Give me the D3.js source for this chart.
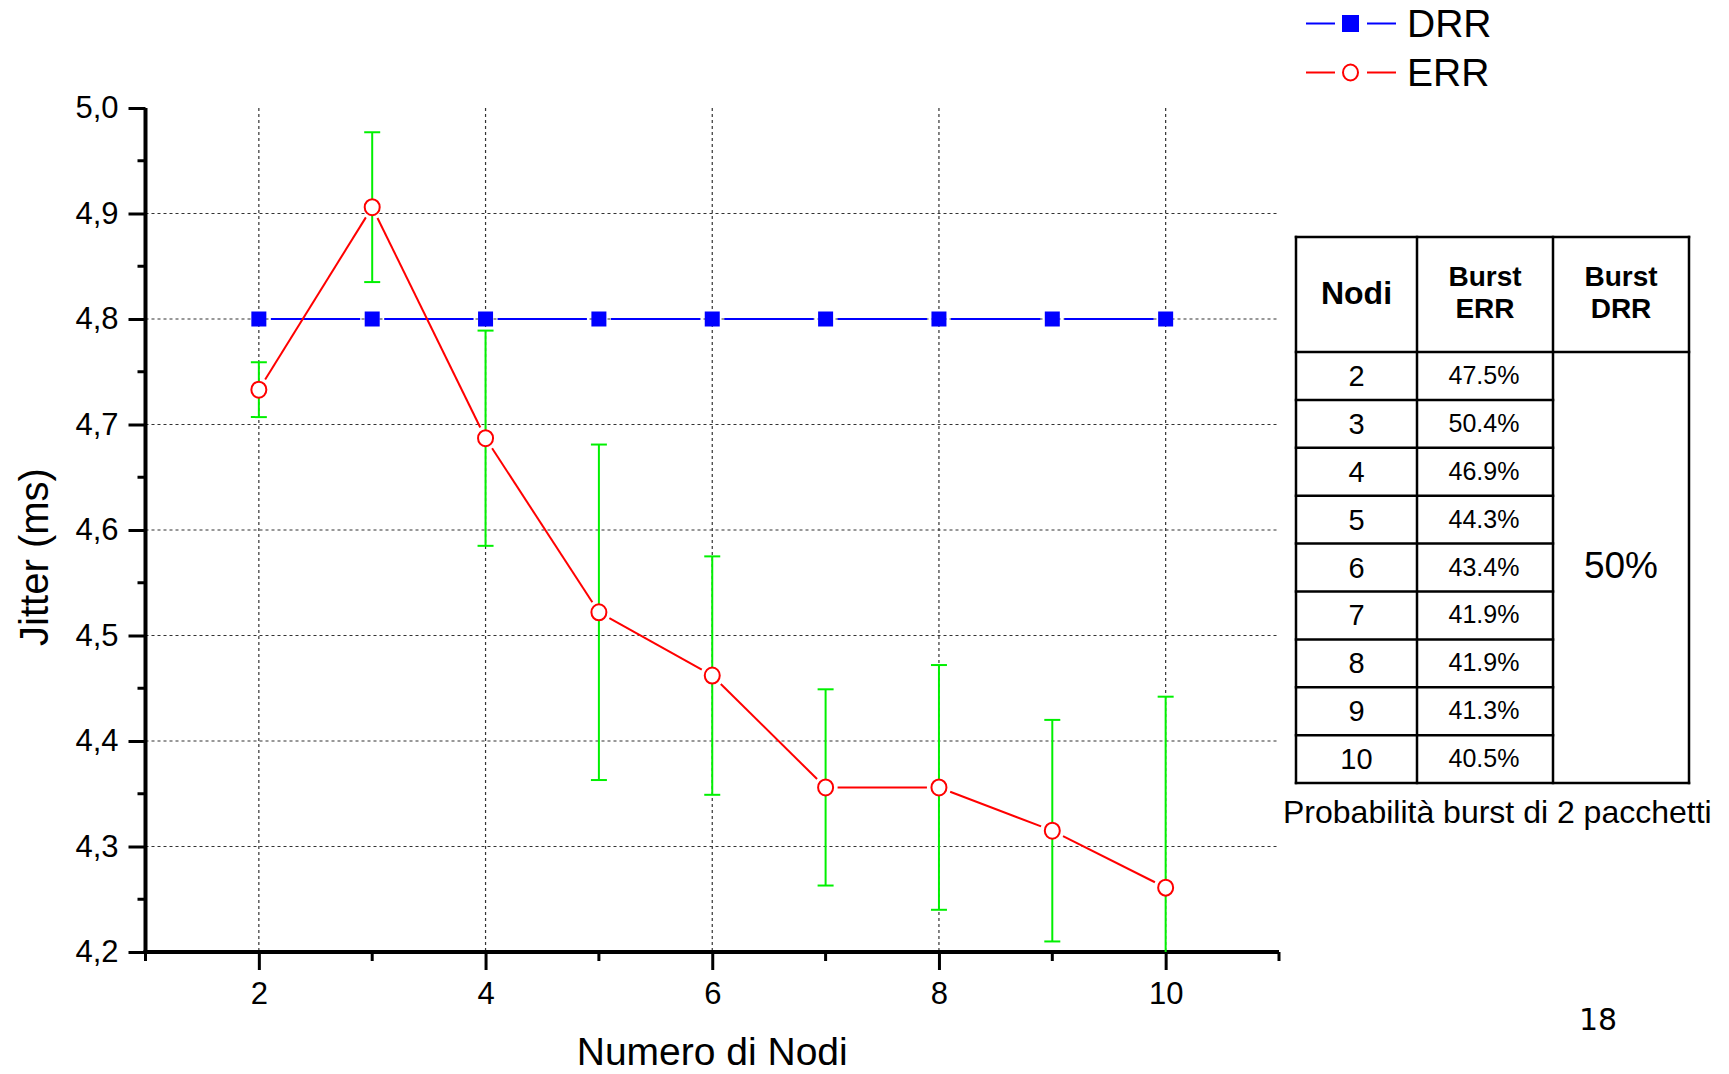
<!DOCTYPE html>
<html>
<head>
<meta charset="utf-8">
<script src="https://cdn.jsdelivr.net/npm/d3@7"></script>
<style>
  html, body { margin: 0; padding: 0; background: #ffffff; }
  svg { display: block; }
  text { font-family: "Liberation Sans", Arial, sans-serif; fill: #000; }
</style>
</head>
<body>
<svg id="chart" width="1729" height="1074"></svg>
<script>
// ---------------- data ----------------
const nodes = [2, 3, 4, 5, 6, 7, 8, 9, 10];
const drrJitter = [4.8, 4.8, 4.8, 4.8, 4.8, 4.8, 4.8, 4.8, 4.8];
const errJitter = [4.733, 4.906, 4.687, 4.522, 4.462, 4.356, 4.356, 4.315, 4.261];
const errDev    = [0.026, 0.071, 0.102, 0.159, 0.113, 0.093, 0.116, 0.105, 0.181];
const xTickValues = [2, 4, 6, 8, 10];
const xMinorValues = [1, 3, 5, 7, 9, 11];
const yTickValues = [4.2, 4.3, 4.4, 4.5, 4.6, 4.7, 4.8, 4.9, 5.0];
const yMinorValues = [4.25, 4.35, 4.45, 4.55, 4.65, 4.75, 4.85, 4.95];
const seriesNames = ["DRR", "ERR"];

const tableHeader = [["Nodi"], ["Burst", "ERR"], ["Burst", "DRR"]];
const tableNodi = ["2", "3", "4", "5", "6", "7", "8", "9", "10"];
const tableBurstErr = ["47.5%", "50.4%", "46.9%", "44.3%", "43.4%", "41.9%", "41.9%", "41.3%", "40.5%"];
const tableBurstDrr = "50%";
const tableCaption = "Probabilità burst di 2 pacchetti";
const pageNumber = "18";

// ---------------- layout ----------------
const svg = d3.select("#chart");
const x = d3.scaleLinear().domain([1, 11]).range([145.5, 1279]);
const y = d3.scaleLinear().domain([4.2, 5.0]).range([952, 108]);

const BLUE = "#0000ff", RED = "#ff0000", GREEN = "#00f000";

// grid
const grid = svg.append("g");
grid.selectAll("line.h").data(yTickValues.filter(v => v > 4.2 && v < 5.0)).join("line")
  .attr("x1", x(1)).attr("x2", x(11))
  .attr("y1", d => y(d)).attr("y2", d => y(d))
  .attr("stroke", "#333").attr("stroke-width", 1.2).attr("stroke-dasharray", "3,3");
grid.selectAll("line.v").data(xTickValues).join("line")
  .attr("x1", d => x(d)).attr("x2", d => x(d))
  .attr("y1", y(5.0)).attr("y2", y(4.2))
  .attr("stroke", "#333").attr("stroke-width", 1.2).attr("stroke-dasharray", "3,3");

// axes
const axesG = svg.append("g");
const yAxis = d3.axisLeft(y).tickValues(yTickValues).tickSize(17).tickPadding(10)
  .tickFormat(d => d3.format(".1f")(d).replace(".", ","));
const yAx = axesG.append("g").attr("transform", `translate(${x(1)},0)`).call(yAxis);
yAx.select(".domain").attr("stroke", "#000").attr("stroke-width", 4)
  .attr("d", `M0,${y(5.0)}V${y(4.2) + 2}`);
yAx.selectAll(".tick line").attr("stroke", "#000").attr("stroke-width", 3);
yAx.selectAll(".tick text").style("font-size", "31px").attr("fill", "#111")
  .style("font-family", "'Liberation Sans', Arial, sans-serif");
axesG.append("g").selectAll("line").data(yMinorValues).join("line")
  .attr("x1", x(1) - 8).attr("x2", x(1)).attr("y1", d => y(d)).attr("y2", d => y(d))
  .attr("stroke", "#000").attr("stroke-width", 3);

const xAxis = d3.axisBottom(x).tickValues(xTickValues).tickSize(18).tickPadding(12)
  .tickFormat(d3.format("d"));
const xAx = axesG.append("g").attr("transform", `translate(0,${y(4.2)})`).call(xAxis);
xAx.select(".domain").attr("stroke", "#000").attr("stroke-width", 4)
  .attr("d", `M${x(1) - 2},0H${x(11)}`);
xAx.selectAll(".tick line").attr("stroke", "#000").attr("stroke-width", 3);
xAx.selectAll(".tick text").style("font-size", "31px").attr("fill", "#111")
  .style("font-family", "'Liberation Sans', Arial, sans-serif");
axesG.append("g").selectAll("line").data(xMinorValues).join("line")
  .attr("x1", d => x(d)).attr("x2", d => x(d)).attr("y1", y(4.2)).attr("y2", y(4.2) + 9)
  .attr("stroke", "#000").attr("stroke-width", 3);

// axis titles
svg.append("text").attr("x", (x(1) + x(11)) / 2).attr("y", 1065)
  .attr("text-anchor", "middle").style("font-size", "39px").text("Numero di Nodi");
svg.append("text").attr("transform", `translate(48,557) rotate(-90)`)
  .attr("text-anchor", "middle").style("font-size", "40px").text("Jitter (ms)");

// clip for data
svg.append("clipPath").attr("id", "plotclip").append("rect")
  .attr("x", x(1)).attr("y", y(5.0) - 20).attr("width", x(11) - x(1)).attr("height", y(4.2) - y(5.0) + 20);
const plot = svg.append("g").attr("clip-path", "url(#plotclip)");

// helper: shortened segments between consecutive points
function segments(vals, gap) {
  const segs = [];
  for (let i = 0; i < vals.length - 1; i++) {
    const x0 = x(nodes[i]), y0 = y(vals[i]), x1 = x(nodes[i + 1]), y1 = y(vals[i + 1]);
    const len = Math.hypot(x1 - x0, y1 - y0), ux = (x1 - x0) / len, uy = (y1 - y0) / len;
    segs.push({ x0: x0 + ux * gap, y0: y0 + uy * gap, x1: x1 - ux * gap, y1: y1 - uy * gap });
  }
  return segs;
}

// DRR
plot.append("g").selectAll("line").data(segments(drrJitter, 12)).join("line")
  .attr("x1", d => d.x0).attr("y1", d => d.y0).attr("x2", d => d.x1).attr("y2", d => d.y1)
  .attr("stroke", BLUE).attr("stroke-width", 2);
plot.append("g").selectAll("rect").data(nodes).join("rect")
  .attr("x", (d) => x(d) - 7.5).attr("y", (d, i) => y(drrJitter[i]) - 7.5)
  .attr("width", 15).attr("height", 15).attr("fill", BLUE);

// ERR error bars
const eb = plot.append("g");
eb.selectAll("line.stem").data(nodes).join("line")
  .attr("x1", d => x(d)).attr("x2", d => x(d))
  .attr("y1", (d, i) => y(errJitter[i] + errDev[i])).attr("y2", (d, i) => y(errJitter[i] - errDev[i]))
  .attr("stroke", GREEN).attr("stroke-width", 2);
eb.selectAll("line.capT").data(nodes).join("line")
  .attr("x1", d => x(d) - 8).attr("x2", d => x(d) + 8)
  .attr("y1", (d, i) => y(errJitter[i] + errDev[i])).attr("y2", (d, i) => y(errJitter[i] + errDev[i]))
  .attr("stroke", GREEN).attr("stroke-width", 2);
eb.selectAll("line.capB").data(nodes).join("line")
  .attr("x1", d => x(d) - 8).attr("x2", d => x(d) + 8)
  .attr("y1", (d, i) => y(errJitter[i] - errDev[i])).attr("y2", (d, i) => y(errJitter[i] - errDev[i]))
  .attr("stroke", GREEN).attr("stroke-width", 2);

// ERR line and markers
plot.append("g").selectAll("line").data(segments(errJitter, 12)).join("line")
  .attr("x1", d => d.x0).attr("y1", d => d.y0).attr("x2", d => d.x1).attr("y2", d => d.y1)
  .attr("stroke", RED).attr("stroke-width", 2);
svg.append("g").selectAll("ellipse").data(nodes).join("ellipse")
  .attr("cx", d => x(d)).attr("cy", (d, i) => y(errJitter[i]))
  .attr("rx", 7.5).attr("ry", 8)
  .attr("fill", "#fff").attr("stroke", RED).attr("stroke-width", 2);

// legend
const legend = svg.append("g");
const legRows = [23.5, 72.5];
seriesNames.forEach((name, i) => {
  const col = i === 0 ? BLUE : RED;
  const g = legend.append("g");
  g.append("line").attr("x1", 1306).attr("x2", 1335).attr("y1", legRows[i]).attr("y2", legRows[i]).attr("stroke", col).attr("stroke-width", 2);
  g.append("line").attr("x1", 1367).attr("x2", 1396).attr("y1", legRows[i]).attr("y2", legRows[i]).attr("stroke", col).attr("stroke-width", 2);
  if (i === 0) {
    g.append("rect").attr("x", 1342).attr("y", legRows[i] - 8.5).attr("width", 17).attr("height", 17).attr("fill", BLUE);
  } else {
    g.append("ellipse").attr("cx", 1350.5).attr("cy", legRows[i]).attr("rx", 7.5).attr("ry", 8)
      .attr("fill", "#fff").attr("stroke", RED).attr("stroke-width", 2);
  }
  g.append("text").attr("x", 1407).attr("y", legRows[i] + 13.5).style("font-size", "39px").text(name);
});

// table
const tbl = svg.append("g");
const colX = [1296, 1417, 1553, 1689];
const headTop = 237, headBot = 352, rowH = 47.9;
const rowY = tableNodi.map((d, i) => headBot + i * rowH);
const tBottom = headBot + tableNodi.length * rowH;
function L(x1, y1, x2, y2) {
  tbl.append("line").attr("x1", x1).attr("y1", y1).attr("x2", x2).attr("y2", y2)
    .attr("stroke", "#000").attr("stroke-width", 2.5).attr("stroke-linecap", "square");
}
L(colX[0], headTop, colX[3], headTop);
L(colX[0], headBot, colX[3], headBot);
L(colX[0], tBottom, colX[3], tBottom);
colX.forEach(cx => L(cx, headTop, cx, tBottom));
rowY.slice(1).forEach(ry => L(colX[0], ry, colX[2], ry));

// header text
tableHeader.forEach((lines, c) => {
  const cx = (colX[c] + colX[c + 1]) / 2;
  if (lines.length === 1) {
    tbl.append("text").attr("x", cx).attr("y", 304).attr("text-anchor", "middle")
      .style("font-size", "32px").style("font-weight", "bold").text(lines[0]);
  } else {
    lines.forEach((s, k) => {
      tbl.append("text").attr("x", cx).attr("y", 286 + k * 32).attr("text-anchor", "middle")
        .style("font-size", "28px").style("font-weight", "bold").text(s);
    });
  }
});
tbl.selectAll("text.nodi").data(tableNodi).join("text")
  .attr("x", (colX[0] + colX[1]) / 2).attr("y", (d, i) => rowY[i] + rowH / 2 + 10)
  .attr("text-anchor", "middle").style("font-size", "29px").text(d => d);
tbl.selectAll("text.berr").data(tableBurstErr).join("text")
  .attr("x", (colX[1] + colX[2]) / 2 - 1).attr("y", (d, i) => rowY[i] + rowH / 2 + 8)
  .attr("text-anchor", "middle").style("font-size", "25px").text(d => d);
tbl.append("text").attr("x", (colX[2] + colX[3]) / 2).attr("y", 578)
  .attr("text-anchor", "middle").style("font-size", "37px").text(tableBurstDrr);
svg.append("text").attr("x", 1283).attr("y", 823).style("font-size", "32px").text(tableCaption);
svg.append("text").attr("x", 1598).attr("y", 1030).attr("text-anchor", "middle")
  .style("font-family", "'DejaVu Sans', sans-serif").style("font-size", "30px").text(pageNumber);
</script>
</body>
</html>
